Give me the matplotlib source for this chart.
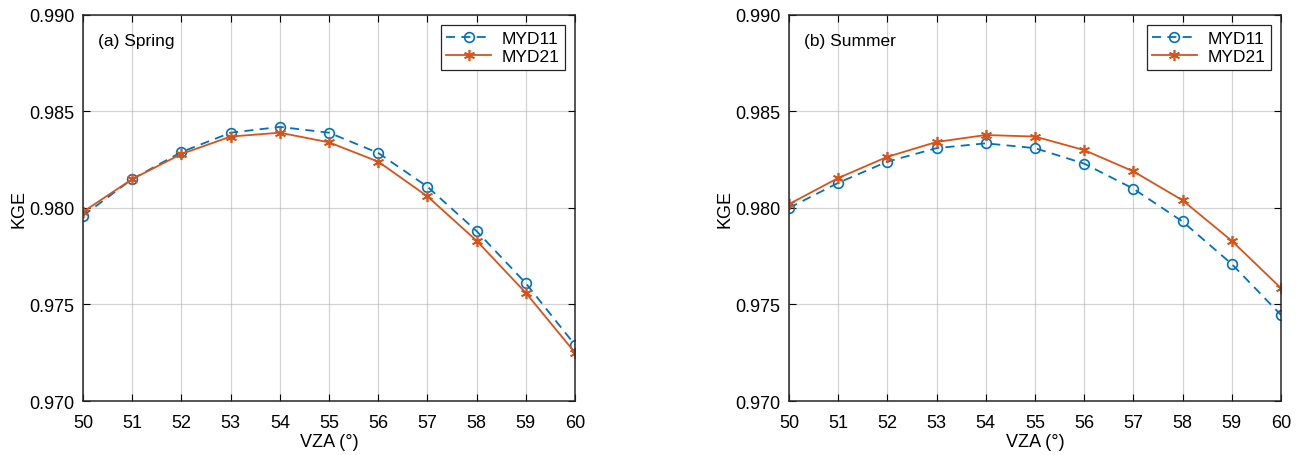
import matplotlib
matplotlib.use("Agg")
import matplotlib.pyplot as plt

plt.rcParams['font.family'] = ['Liberation Sans', 'DejaVu Sans']

vza = [50, 51, 52, 53, 54, 55, 56, 57, 58, 59, 60]

# Spring
spring_myd11 = [0.9796, 0.9815, 0.9829, 0.9839, 0.9842, 0.9839, 0.98285, 0.9811, 0.9788, 0.9761, 0.9729]
spring_myd21 = [0.9798, 0.9815, 0.9828, 0.9837, 0.9839, 0.9834, 0.9824, 0.9806, 0.9783, 0.9756, 0.9725]

# Summer
summer_myd11 = [0.9800, 0.9813, 0.9824, 0.9831, 0.98335, 0.9831, 0.9823, 0.9810, 0.9793, 0.9771, 0.97446]
summer_myd21 = [0.9802, 0.98155, 0.98265, 0.98342, 0.98378, 0.9837, 0.9830, 0.9819, 0.9804, 0.9783, 0.97585]

panels = [("(a) Spring", spring_myd11, spring_myd21),
          ("(b) Summer", summer_myd11, summer_myd21)]

blue = '#0072BD'
orange = '#D95319'

fig = plt.figure(figsize=(13.04, 4.56), dpi=100)
positions = [[0.0637, 0.1184, 0.3773, 0.8466], [0.605, 0.1184, 0.3773, 0.8466]]

for pos, (title, m11, m21) in zip(positions, panels):
    ax = fig.add_axes(pos)
    ax.plot(vza, m11, color=blue, lw=1.3, ls=(0, (5, 3.5)), marker='o', ms=7,
            mfc='none', mec=blue, mew=1.2, label='MYD11')
    ax.plot(vza, m21, '-', color=orange, lw=1.3, marker=(6, 2, 0), ms=8,
            mec=orange, mew=1.2, label='MYD21')
    ax.set_xlim(50, 60)
    ax.set_ylim(0.970, 0.990)
    ax.set_xticks(vza)
    ax.set_yticks([0.970, 0.975, 0.980, 0.985, 0.990])
    ax.set_yticklabels(['0.970', '0.975', '0.980', '0.985', '0.990'])
    ax.grid(True, color='#b0b0b0', alpha=0.55, lw=0.9)
    ax.tick_params(direction='in', top=True, right=True, labelsize=13, length=5)
    ax.tick_params(axis='x', pad=9)
    ax.tick_params(axis='y', pad=6)
    for s in ax.spines.values():
        s.set_linewidth(1.1)
        s.set_color('#262626')
    ax.set_xlabel('VZA (°)', fontsize=13, labelpad=2)
    ax.set_ylabel('KGE', fontsize=13, labelpad=1)
    ax.text(0.03, 0.935, title, transform=ax.transAxes, fontsize=12.5, va='center')
    leg = ax.legend(loc='upper right', fontsize=12.5, fancybox=False, framealpha=1,
                    edgecolor='#262626', handlelength=2.6, borderaxespad=0.6,
                    borderpad=0.3, labelspacing=0.2, handletextpad=0.6)
    leg.get_frame().set_linewidth(0.9)

fig.savefig('out.png', dpi=100)
